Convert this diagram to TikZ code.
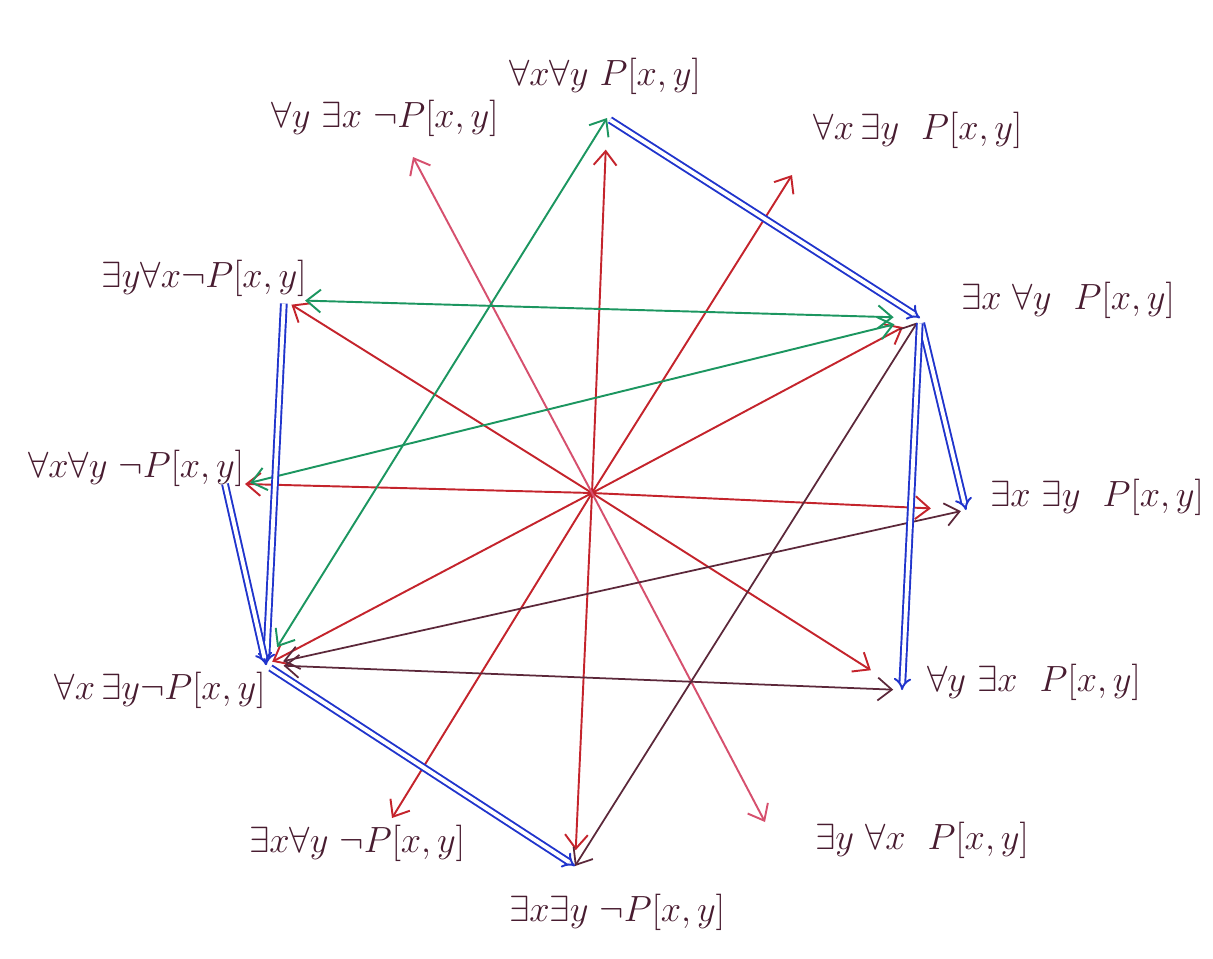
\documentclass[tikz,border=0pt]{standalone}
\usetikzlibrary{arrows.meta}

\definecolor{ink}{RGB}{72,28,48}
\definecolor{penred}{RGB}{196,36,44}
\definecolor{penpink}{RGB}{214,80,110}
\definecolor{pengreen}{RGB}{28,150,96}
\definecolor{penblue}{RGB}{32,52,204}
\definecolor{penbrown}{RGB}{92,40,58}

\tikzset{
  formula/.style={text=ink,font=\huge,inner sep=1pt},
  negarrow/.style={penred,line width=1.1pt,-{Straight Barb[length=8pt,width=13pt]}},
  contra/.style={pengreen,line width=1.1pt,{Straight Barb[length=8pt,width=13pt]}-{Straight Barb[length=8pt,width=13pt]}},
  subcontra/.style={penbrown,line width=1pt,{Straight Barb[length=8pt,width=13pt]}-{Straight Barb[length=8pt,width=13pt]}},
  implies/.style={draw=penblue,line width=1.1pt,double=white,double distance=2.2pt,-{Implies[scale=1.6]}},
}

\begin{document}
\begin{tikzpicture}[x=0.02cm,y=-0.02cm]
  \useasboundingbox (0,0) rectangle (1213,958);

  % meeting points of the arrows
  \coordinate (O)     at (592,493);
  \coordinate (AA)    at (607,118);
  \coordinate (AE)    at (792,175);
  \coordinate (EA)    at (920,318);
  \coordinate (EE)    at (966,510);
  \coordinate (AyEx)  at (902,690);
  \coordinate (EyAx)  at (765,822);
  \coordinate (nEE)   at (575,866);
  \coordinate (nEA)   at (392,818);
  \coordinate (nAE)   at (266,665);
  \coordinate (nAA)   at (245,484);
  \coordinate (nEyAx) at (284,300);
  \coordinate (nAyEx) at (413,157);

  % formulas
  \node[formula] (tAA)    at (605,76)   {$\forall x\forall y\ P[x,y]$};
  \node[formula] (tAE)    at (918,130)  {$\forall x\,\exists y\ \ P[x,y]$};
  \node[formula] (tEA)    at (1068,300) {$\exists x\ \forall y\ \ P[x,y]$};
  \node[formula] (tEE)    at (1097,497) {$\exists x\ \exists y\ \ P[x,y]$};
  \node[formula] (tAyEx)  at (1034,682) {$\forall y\ \exists x\ \ P[x,y]$};
  \node[formula] (tEyAx)  at (922,840)  {$\exists y\ \forall x\ \ P[x,y]$};
  \node[formula] (tnEE)   at (617,912)  {$\exists x\exists y\ \neg P[x,y]$};
  \node[formula] (tnEA)   at (357,843)  {$\exists x\forall y\ \neg P[x,y]$};
  \node[formula] (tnAE)   at (160,690)  {$\forall x\,\exists y\neg P[x,y]$};
  \node[formula] (tnAA)   at (136,468)  {$\forall x\forall y\ \neg P[x,y]$};
  \node[formula] (tnEyAx) at (204,278)  {$\exists y\forall x\neg P[x,y]$};
  \node[formula] (tnAyEx) at (385,118)  {$\forall y\ \exists x\ \neg P[x,y]$};

  % negations, through the centre
  \foreach \p/\s in {AA/18pt,AE/0pt,EA/11pt,EE/20pt,AyEx/21pt,nEE/9pt,nEA/0pt,nAE/4pt,nAA/0pt,nEyAx/5pt}
    \draw[negarrow,shorten >=\s] (O) -- (\p);
  \draw[negarrow,penpink] (O) -- (nAyEx);
  \draw[negarrow,penpink] (O) -- (EyAx);

  % green pairs
  \draw[contra,shorten <=12pt] (nAE) -- (AA);
  \draw[contra,shorten <=12pt,shorten >=15pt] (nEyAx) -- (EA);
  \draw[contra,shorten <=3pt,shorten >=15pt] (nAA) -- (EA);

  % dark pairs
  \draw[subcontra,shorten >=3pt] (nEE) -- (EA);
  \draw[subcontra,shorten <=10pt,shorten >=3pt] (nAE) -- (EE);
  \draw[subcontra,shorten <=10pt,shorten >=5pt] (nAE) -- (AyEx);

  % implications
  \draw[implies,shorten <=2pt] (AA) -- (EA);
  \draw[implies,shorten <=3pt] (EA) -- (EE);
  \draw[implies,shorten <=3pt] (EA) -- (AyEx);
  \draw[implies,shorten <=2pt] (nEyAx) -- (nAE);
  \draw[implies] ([xshift=-0.4cm]nAA) -- (nAE);
  \draw[implies,shorten <=3pt] (nAE) -- (nEE);
\end{tikzpicture}
\end{document}
